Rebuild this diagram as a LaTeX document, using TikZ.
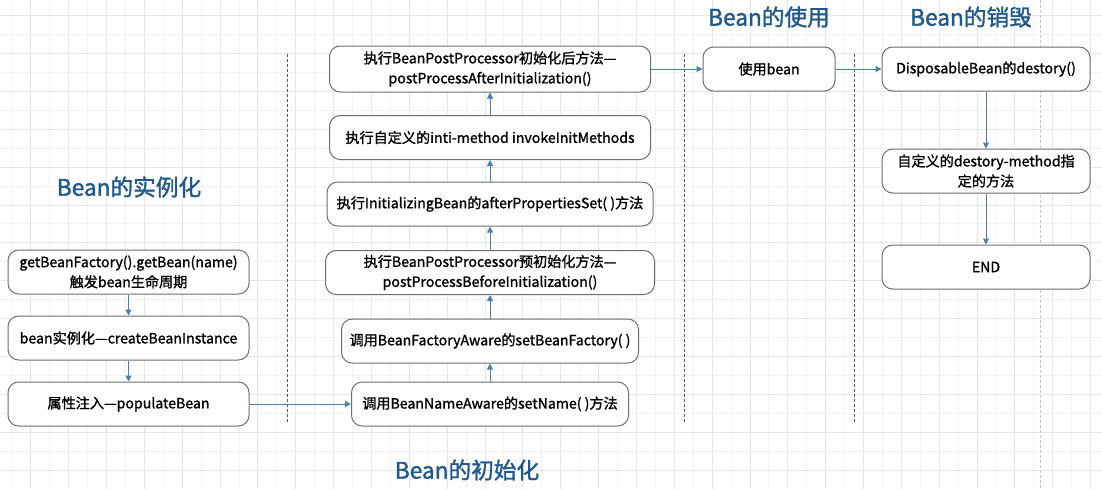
\documentclass[tikz,border=0pt]{standalone}
\usepackage{fontspec}
\setmainfont{Noto Sans CJK SC}[BoldFont={Noto Sans CJK SC}, BoldFeatures={FakeBold=1.3}]
\usetikzlibrary{arrows.meta}

\definecolor{titleblue}{RGB}{31,88,138}
\definecolor{flowblue}{RGB}{76,126,175}
\definecolor{boxgray}{RGB}{110,110,110}
\definecolor{gridmajor}{RGB}{230,230,230}
\definecolor{gridminor}{RGB}{243,243,243}

\tikzset{
  stagebox/.style={draw=boxgray, fill=white, line width=0.75pt, rounded corners=8pt,
    align=center, inner sep=2pt, minimum height=33pt, font=\fontsize{10.6}{15}\selectfont\bfseries},
  stagetitle/.style={text=titleblue, font=\fontsize{17}{20}\selectfont\bfseries, inner sep=0pt},
  flow/.style={draw=flowblue, line width=0.75pt, -{Triangle[length=4.5pt,width=4.5pt]}},
  sepline/.style={draw=black!65, line width=0.75pt, dash pattern=on 2.25pt off 1.5pt},
}

\begin{document}
\begin{tikzpicture}[x=0.75pt, y=-0.75pt]
  \useasboundingbox[fill=white] (0,0) rectangle (1102,489);

  % --- grid ---
  \foreach \k in {0,...,29} \draw[gridminor, line width=0.75pt] ({11.9+37.85*\k},0) -- ++(0,489);
  \foreach \k in {0,...,11} \draw[gridminor, line width=0.75pt] (0,{34.7+37.85*\k}) -- ++(1102,0);
  \foreach \k in {0,...,28} \draw[gridmajor, line width=0.75pt] ({30.85+37.85*\k},0) -- ++(0,489);
  \foreach \k in {0,...,12} \draw[gridmajor, line width=0.75pt] (0,{15.8+37.85*\k}) -- ++(1102,0);

  % --- separators ---
  \draw[sepline] (287,54) -- (287,423);
  \draw[sepline] (684,54) -- (684,422);
  \draw[sepline] (854,54) -- (854,422);
  \draw[black!22, line width=0.75pt, dash pattern=on 2.25pt off 1.5pt] (1040,0) -- (1040,489);

  % --- titles ---
  \node[stagetitle] (tinst) at (129,187) {Bean的实例化};
  \node[stagetitle] (tinit) at (467,470) {Bean的初始化};
  \node[stagetitle] (tuse)  at (769,17)  {Bean的使用};
  \node[stagetitle] (tdest) at (971,17)  {Bean的销毁};

  % --- instantiation ---
  \node[stagebox, minimum width=180.75pt] (inst1) at (128.5,272) {getBeanFactory().getBean(name)\\触发bean生命周期};
  \node[stagebox, minimum width=180.75pt] (inst2) at (128.5,338) {bean实例化—createBeanInstance};
  \node[stagebox, minimum width=180.75pt] (inst3) at (128.5,404) {属性注入—populateBean};

  % --- initialization ---
  \node[stagebox, minimum width=207.75pt] (init1) at (490,404) {调用BeanNameAware的setName( )方法};
  \node[stagebox, minimum width=222.75pt] (init2) at (490,341) {调用BeanFactoryAware的setBeanFactory( )};
  \node[stagebox, minimum width=246.75pt] (init3) at (490,272.5) {执行BeanPostProcessor预初始化方法—\\postProcessBeforeInitialization()};
  \node[stagebox, minimum width=244.5pt]  (init4) at (490,204) {执行InitializingBean的afterPropertiesSet( )方法};
  \node[stagebox, minimum width=240.75pt] (init5) at (490,137.5) {执行自定义的inti-method invokeInitMethods};
  \node[stagebox, minimum width=240.75pt, minimum height=34.5pt] (init6) at (490,69) {执行BeanPostProcessor初始化后方法—\\postProcessAfterInitialization()};

  % --- use and destruction ---
  \node[stagebox, minimum width=99pt] (use1) at (769,69) {使用bean};
  \node[stagebox, minimum width=156pt] (dest1) at (986,69) {DisposableBean的destory()};
  \node[stagebox, minimum width=156pt] (dest2) at (986,171) {自定义的destory-method指\\定的方法};
  \node[stagebox, minimum width=156pt] (dest3) at (986,267) {END};

  % --- connectors ---
  \draw[flow] (inst1) -- (inst2);
  \draw[flow] (inst2) -- (inst3);
  \draw[flow] (inst3) -- (init1);
  \draw[flow] (init1) -- (init2);
  \draw[flow] (init2) -- (init3);
  \draw[flow] (init3) -- (init4);
  \draw[flow] (init4) -- (init5);
  \draw[flow] (init5) -- (init6);
  \draw[flow] (init6) -- (use1);
  \draw[flow] (use1) -- (dest1);
  \draw[flow] (dest1) -- (dest2);
  \draw[flow] (dest2) -- (dest3);
\end{tikzpicture}
\end{document}
